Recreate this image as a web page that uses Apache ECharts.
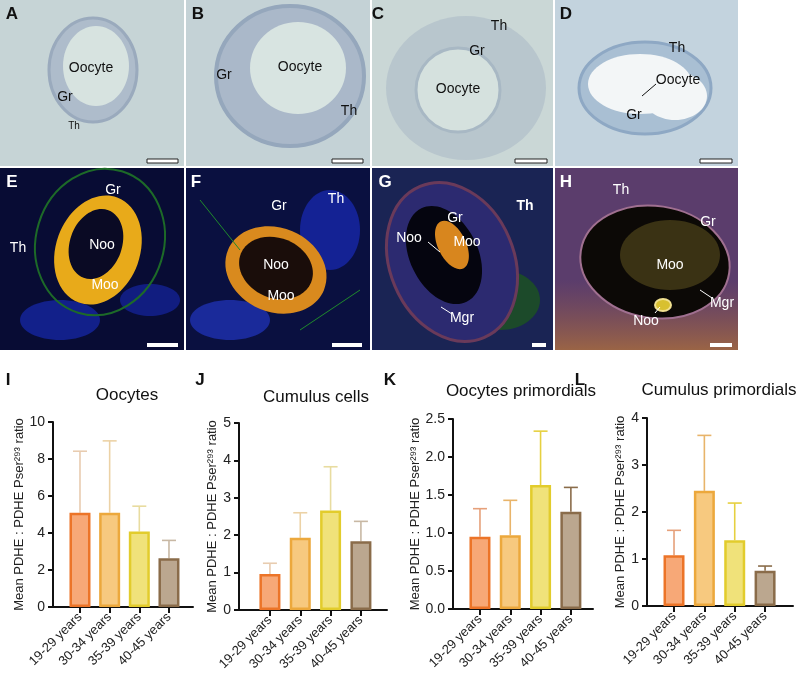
<!DOCTYPE html>
<html>
<head>
<meta charset="utf-8">
<script src="https://cdn.jsdelivr.net/npm/echarts@6/dist/echarts.min.js"></script>
<style>
    html, body { margin: 0; padding: 0; background: #fff; }
    #main { width: 800px; height: 676px; }
</style>
</head>
<body>
<div id="main"></div>
<script>
    // age groups (x categories)
    var ageGroups = ['19-29 years', '30-34 years', '35-39 years', '40-45 years'];

    // mean ratio and top of the error bar for each panel
    var oocytesMean = [5.1, 5.1, 4.08, 2.64];
    var oocytesErr = [8.42, 8.98, 5.45, 3.6];
    var cumulusMean = [0.96, 1.93, 2.66, 1.84];
    var cumulusErr = [1.25, 2.6, 3.83, 2.37];
    var oocPrimMean = [0.95, 0.97, 1.63, 1.28];
    var oocPrimErr = [1.32, 1.43, 2.34, 1.6];
    var cumPrimMean = [1.08, 2.45, 1.4, 0.75];
    var cumPrimErr = [1.61, 3.63, 2.19, 0.85];

    var fills = ['#f7a877', '#f7c97f', '#f0e27a', '#bba78f'];
    var borders = ['#ec7428', '#eca83c', '#e2cc2c', '#8a6c4a'];
    var errCols = ['#e6a07a', '#e8b46a', '#e6d040', '#8a6c4a'];
    var paleErr = ['#e8ccb0', '#ecd2a6', '#e8dca0', '#c8b8a4'];

    var FONT = '"Liberation Sans", Arial, sans-serif';
    var yName = 'Mean PDHE : PDHE Pser\u00b2\u2079\u00b3 ratio';

    // panels: grid box, x range, y range
    var panels = [
        {title: 'Oocytes', mean: oocytesMean, err: oocytesErr, max: 10, step: 2, dec: 0, gap: 27,
         grid: {left: 53, top: 422, width: 140, height: 185}, xmin: -0.91, xmax: 3.81, ec: paleErr},
        {title: 'Cumulus cells', mean: cumulusMean, err: cumulusErr, max: 5, step: 1, dec: 0, gap: 15,
         grid: {left: 239, top: 423, width: 148, height: 187}, xmin: -1.02, xmax: 3.86, ec: paleErr},
        {title: 'Oocytes primordials', mean: oocPrimMean, err: oocPrimErr, max: 2.5, step: 0.5, dec: 1, gap: 30,
         grid: {left: 453, top: 419, width: 140, height: 190}, xmin: -0.89, xmax: 3.73, ec: errCols},
        {title: 'Cumulus primordials', mean: cumPrimMean, err: cumPrimErr, max: 4, step: 1, dec: 0, gap: 15,
         grid: {left: 647, top: 418, width: 146, height: 188}, xmin: -0.89, xmax: 3.92, ec: errCols}
    ];

    var grids = [], xAxes = [], yAxes = [], series = [];
    panels.forEach(function (p, k) {
        grids.push(p.grid);
        xAxes.push({
            type: 'value', gridIndex: k, min: p.xmin, max: p.xmax,
            splitLine: {show: false},
            axisLine: {show: true, onZero: false, lineStyle: {color: '#111', width: 2}},
            axisTick: {show: true, length: 6, customValues: [0, 1, 2, 3], lineStyle: {color: '#111', width: 2}},
            axisLabel: {
                customValues: [0, 1, 2, 3], rotate: 45, margin: 8,
                fontSize: 13, color: '#222', fontFamily: FONT,
                formatter: function (v) { return ageGroups[Math.round(v)]; }
            }
        });
        yAxes.push({
            type: 'value', gridIndex: k, min: 0, max: p.max, interval: p.step,
            splitLine: {show: false},
            axisLine: {show: true, onZero: false, lineStyle: {color: '#111', width: 2}},
            axisTick: {show: true, length: 5, lineStyle: {color: '#111', width: 2}},
            axisLabel: {
                fontSize: 14, color: '#222', fontFamily: FONT, margin: 8,
                formatter: function (v) { return v.toFixed(p.dec); }
            },
            name: yName, nameLocation: 'middle', nameGap: p.gap,
            nameTextStyle: {fontSize: 13, color: '#222', fontFamily: FONT}
        });
        series.push({
            type: 'bar', xAxisIndex: k, yAxisIndex: k, barWidth: 21, z: 3,
            data: p.mean.map(function (v, i) {
                return {
                    value: [i, v],
                    itemStyle: {color: fills[i], borderColor: borders[i], borderWidth: 2.5}
                };
            })
        });
        series.push({
            type: 'custom', xAxisIndex: k, yAxisIndex: k, z: 2,
            data: p.mean.map(function (v, i) { return [i, v, p.err[i]]; }),
            renderItem: function (params, api) {
                var i = api.value(0);
                var base = api.coord([i, api.value(1)]);
                var top = api.coord([i, api.value(2)]);
                var st = {stroke: p.ec[i], lineWidth: 1.6};
                return {
                    type: 'group',
                    children: [
                        {type: 'line', shape: {x1: base[0], y1: base[1], x2: top[0], y2: top[1]}, style: st},
                        {type: 'line', shape: {x1: top[0] - 7, y1: top[1], x2: top[0] + 7, y2: top[1]}, style: st}
                    ]
                };
            }
        });
    });

    // titles and panel letters for the chart row
    var titles = [
        {text: 'Oocytes', left: 122, top: 393},
        {text: 'Cumulus cells', left: 311, top: 395},
        {text: 'Oocytes primordials', left: 516, top: 389},
        {text: 'Cumulus primordials', left: 714, top: 388}
    ].map(function (t) {
        return {
            text: t.text, left: t.left, top: t.top - 11, textAlign: 'center',
            textStyle: {fontSize: 17, fontWeight: 'normal', color: '#111', fontFamily: FONT}
        };
    });

    // micrograph panels (drawn as plain shapes)
    var g = [];
    function rect(x, y, w, h, fill) {
        g.push({type: 'rect', shape: {x: x, y: y, width: w, height: h}, style: {fill: fill}, silent: true});
    }
    function ell(cx, cy, rx, ry, fill, stroke, lw, rot) {
        g.push({type: 'ellipse', shape: {cx: cx, cy: cy, rx: rx, ry: ry}, rotation: rot || 0, originX: cx, originY: cy,
            style: {fill: fill || 'none', stroke: stroke || 'none', lineWidth: lw || 0}, silent: true});
    }
    function txt(x, y, s, col, size, bold) {
        g.push({type: 'text', x: x, y: y, style: {text: s, fill: col, fontSize: size || 14,
            fontWeight: bold ? 'bold' : 'normal', fontFamily: FONT, align: 'center', verticalAlign: 'middle'}, silent: true});
    }
    function bar(x1, x2, y, dark) {
        g.push({type: 'rect', shape: {x: x1, y: y - 2, width: x2 - x1, height: 4},
            style: {fill: '#fff', stroke: dark ? '#222' : 'none', lineWidth: 1}, silent: true});
    }
    function seg(x1, y1, x2, y2, col) {
        g.push({type: 'line', shape: {x1: x1, y1: y1, x2: x2, y2: y2}, style: {stroke: col, lineWidth: 1}, silent: true});
    }

    // A
    rect(0, 0, 184, 166, '#c6d4d6');
    ell(93, 70, 44, 52, '#aebccb', '#9aaabd', 3);
    ell(96, 66, 33, 40, '#d7e3e0');
    txt(12, 14, 'A', '#111', 17, true);
    txt(91, 68, 'Oocyte', '#111', 14);
    txt(65, 97, 'Gr', '#111', 14);
    txt(74, 126, 'Th', '#111', 10);
    bar(147, 178, 161, true);
    // B
    rect(186, 0, 184, 166, '#c4d2d6');
    ell(290, 76, 74, 70, '#aab8c9', '#95a7bc', 4);
    ell(298, 68, 48, 46, '#d8e4e1');
    txt(198, 14, 'B', '#111', 17, true);
    txt(300, 67, 'Oocyte', '#111', 14);
    txt(224, 75, 'Gr', '#111', 14);
    txt(349, 111, 'Th', '#111', 14);
    bar(332, 363, 161, true);
    // C
    rect(372, 0, 181, 166, '#cad7d6');
    ell(466, 88, 80, 72, '#b8c6cd');
    ell(458, 90, 42, 42, '#d5e1de', '#a8b8c4', 3);
    txt(378, 14, 'C', '#111', 17, true);
    txt(499, 26, 'Th', '#111', 14);
    txt(477, 51, 'Gr', '#111', 14);
    txt(458, 89, 'Oocyte', '#111', 14);
    bar(515, 547, 161, true);
    // D
    rect(555, 0, 183, 166, '#c3d3de');
    ell(645, 88, 66, 46, '#a9bfd3', '#8ea8c4', 3);
    ell(640, 84, 52, 30, '#f3f6f7');
    ell(675, 96, 32, 24, '#f3f6f7');
    txt(566, 14, 'D', '#111', 17, true);
    txt(677, 48, 'Th', '#111', 14);
    txt(678, 80, 'Oocyte', '#111', 14);
    txt(634, 115, 'Gr', '#111', 14);
    seg(656, 84, 642, 96, '#111');
    bar(700, 732, 161, true);

    // E
    rect(0, 168, 184, 182, '#080c34');
    ell(60, 320, 40, 20, '#12208a');
    ell(150, 300, 30, 16, '#111d80');
    ell(100, 242, 64, 74, 'none', '#1d6a28', 2, -0.3);
    ell(98, 250, 42, 56, '#e8aa1a', null, 0, -0.35);
    ell(96, 244, 26, 36, '#0a0a24', null, 0, -0.35);
    txt(12, 182, 'E', '#fff', 17, true);
    txt(113, 190, 'Gr', '#fff', 14);
    txt(18, 248, 'Th', '#fff', 14);
    txt(102, 245, 'Noo', '#fff', 14);
    txt(105, 285, 'Moo', '#fff', 14);
    bar(147, 178, 345, false);
    // F
    rect(186, 168, 184, 182, '#0a1040');
    ell(230, 320, 40, 20, '#1a2a9a');
    ell(330, 230, 30, 40, '#142294');
    ell(276, 270, 52, 42, '#d98a1e', null, 0, -0.4);
    ell(276, 268, 38, 30, '#1a0d0a', null, 0, -0.4);
    seg(200, 200, 240, 250, '#1f8a2c');
    seg(300, 330, 360, 290, '#1f8a2c');
    txt(196, 182, 'F', '#fff', 17, true);
    txt(279, 206, 'Gr', '#fff', 14);
    txt(336, 199, 'Th', '#fff', 14);
    txt(276, 265, 'Noo', '#fff', 14);
    txt(281, 296, 'Moo', '#fff', 14);
    bar(332, 362, 345, false);
    // G
    rect(372, 168, 181, 182, '#1a2454');
    ell(500, 300, 40, 30, '#1c4a2a');
    ell(452, 262, 62, 82, '#2c2a70', '#6a3a5a', 3, 0.4);
    ell(444, 255, 34, 52, '#05050f', null, 0, 0.45);
    ell(452, 245, 14, 26, '#d8861e', null, 0, 0.45);
    txt(385, 182, 'G', '#fff', 17, true);
    txt(455, 218, 'Gr', '#fff', 14);
    txt(525, 206, 'Th', '#fff', 14, true);
    txt(409, 238, 'Noo', '#fff', 14);
    txt(467, 242, 'Moo', '#fff', 14);
    txt(462, 318, 'Mgr', '#fff', 14);
    seg(428, 242, 440, 252, '#fff');
    seg(441, 307, 452, 314, '#fff');
    bar(532, 546, 345, false);
    // H
    rect(555, 168, 183, 182, '#5b3d6c');
    g.push({type: 'rect', shape: {x: 555, y: 280, width: 183, height: 70}, silent: true,
        style: {fill: new echarts.graphic.LinearGradient(0, 0, 0, 1, [
            {offset: 0, color: 'rgba(150,90,70,0)'}, {offset: 1, color: 'rgba(170,110,60,0.8)'}])}});
    ell(655, 262, 75, 56, '#0c0906', '#a07090', 2, -0.15);
    ell(670, 255, 50, 35, '#3a3214');
    ell(663, 305, 8, 6, '#d8c030', '#f0e090', 2);
    txt(566, 182, 'H', '#fff', 17, true);
    txt(621, 190, 'Th', '#fff', 14);
    txt(708, 222, 'Gr', '#fff', 14);
    txt(670, 265, 'Moo', '#fff', 14);
    txt(722, 303, 'Mgr', '#fff', 14);
    txt(646, 321, 'Noo', '#fff', 14);
    seg(700, 290, 712, 298, '#fff');
    seg(655, 313, 660, 307, '#fff');
    bar(710, 732, 345, false);

    // chart row letters
    ['I', 'J', 'K', 'L'].forEach(function (s, i) {
        txt([8, 200, 390, 580][i], 380, s, '#111', 17, true);
    });

    var dom = document.getElementById('main');
    var myChart = echarts.init(dom);
    var option = {
        animation: false,
        title: titles,
        grid: grids,
        xAxis: xAxes,
        yAxis: yAxes,
        series: series,
        graphic: g
    };
    myChart.setOption(option, true);
</script>
</body>
</html>
